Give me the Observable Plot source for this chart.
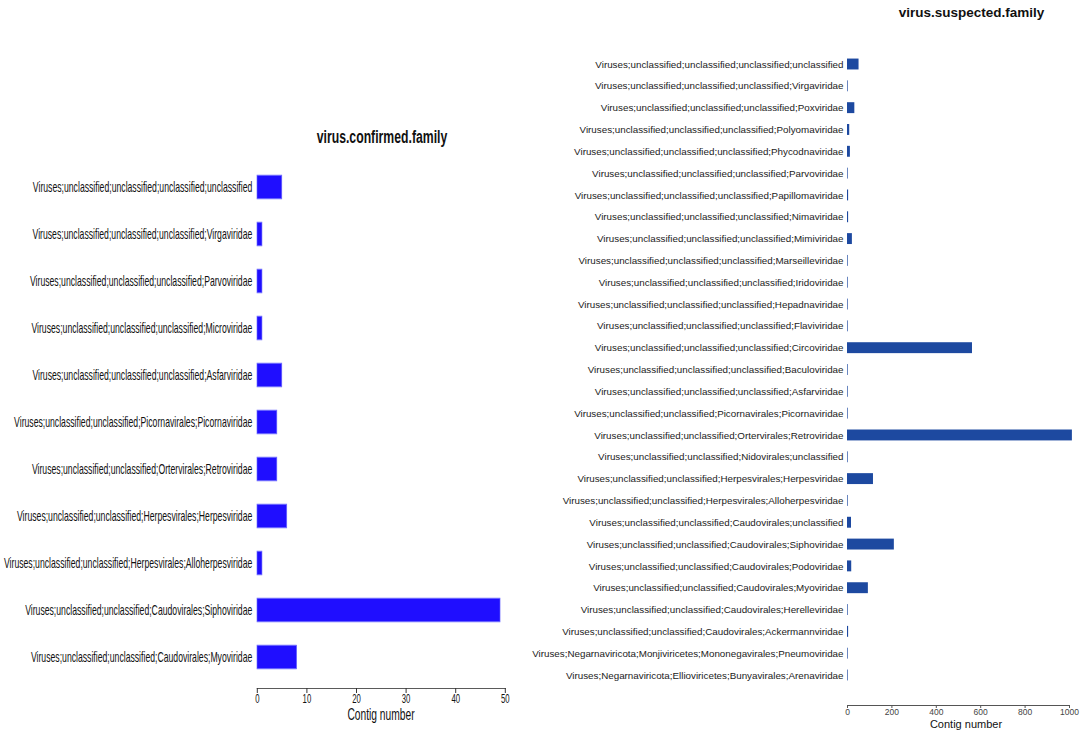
<!DOCTYPE html>
<html>
<head>
<meta charset="utf-8">
<script src="https://cdn.jsdelivr.net/npm/d3@7"></script>
<script src="https://cdn.jsdelivr.net/npm/@observablehq/plot@0.6"></script>
<style>
  html, body { margin: 0; padding: 0; background: #fff; }
  #wrap { position: relative; width: 1084px; height: 735px; overflow: hidden; background: #fff; font-family: "Liberation Sans", Arial, sans-serif; }
  .lbl { position: absolute; white-space: nowrap; line-height: 1; color: #111; }
</style>
</head>
<body>
<div id="wrap"></div>
<script>
// ---- Data: left panel (virus.confirmed.family) ----
const confirmedLabels = [
  "Viruses;unclassified;unclassified;unclassified;unclassified",
  "Viruses;unclassified;unclassified;unclassified;Virgaviridae",
  "Viruses;unclassified;unclassified;unclassified;Parvoviridae",
  "Viruses;unclassified;unclassified;unclassified;Microviridae",
  "Viruses;unclassified;unclassified;unclassified;Asfarviridae",
  "Viruses;unclassified;unclassified;Picornavirales;Picornaviridae",
  "Viruses;unclassified;unclassified;Ortervirales;Retroviridae",
  "Viruses;unclassified;unclassified;Herpesvirales;Herpesviridae",
  "Viruses;unclassified;unclassified;Herpesvirales;Alloherpesviridae",
  "Viruses;unclassified;unclassified;Caudovirales;Siphoviridae",
  "Viruses;unclassified;unclassified;Caudovirales;Myoviridae"
];
const confirmedValues = [5, 1, 1, 1, 5, 4, 4, 6, 1, 49, 8];
const confirmedTicks = [0, 10, 20, 30, 40, 50];

// ---- Data: right panel (virus.suspected.family) ----
const suspectedLabels = [
  "Viruses;unclassified;unclassified;unclassified;unclassified",
  "Viruses;unclassified;unclassified;unclassified;Virgaviridae",
  "Viruses;unclassified;unclassified;unclassified;Poxviridae",
  "Viruses;unclassified;unclassified;unclassified;Polyomaviridae",
  "Viruses;unclassified;unclassified;unclassified;Phycodnaviridae",
  "Viruses;unclassified;unclassified;unclassified;Parvoviridae",
  "Viruses;unclassified;unclassified;unclassified;Papillomaviridae",
  "Viruses;unclassified;unclassified;unclassified;Nimaviridae",
  "Viruses;unclassified;unclassified;unclassified;Mimiviridae",
  "Viruses;unclassified;unclassified;unclassified;Marseilleviridae",
  "Viruses;unclassified;unclassified;unclassified;Iridoviridae",
  "Viruses;unclassified;unclassified;unclassified;Hepadnaviridae",
  "Viruses;unclassified;unclassified;unclassified;Flaviviridae",
  "Viruses;unclassified;unclassified;unclassified;Circoviridae",
  "Viruses;unclassified;unclassified;unclassified;Baculoviridae",
  "Viruses;unclassified;unclassified;unclassified;Asfarviridae",
  "Viruses;unclassified;unclassified;Picornavirales;Picornaviridae",
  "Viruses;unclassified;unclassified;Ortervirales;Retroviridae",
  "Viruses;unclassified;unclassified;Nidovirales;unclassified",
  "Viruses;unclassified;unclassified;Herpesvirales;Herpesviridae",
  "Viruses;unclassified;unclassified;Herpesvirales;Alloherpesviridae",
  "Viruses;unclassified;unclassified;Caudovirales;unclassified",
  "Viruses;unclassified;unclassified;Caudovirales;Siphoviridae",
  "Viruses;unclassified;unclassified;Caudovirales;Podoviridae",
  "Viruses;unclassified;unclassified;Caudovirales;Myoviridae",
  "Viruses;unclassified;unclassified;Caudovirales;Herelleviridae",
  "Viruses;unclassified;unclassified;Caudovirales;Ackermannviridae",
  "Viruses;Negarnaviricota;Monjiviricetes;Mononegavirales;Pneumoviridae",
  "Viruses;Negarnaviricota;Ellioviricetes;Bunyavirales;Arenaviridae"
];
const suspectedValues = [52, 3, 33, 10, 13, 3, 5, 5, 22, 3, 3, 3, 3, 563, 3, 3, 3, 1013, 3, 117, 3, 18, 211, 19, 94, 3, 5, 3, 3];
const suspectedTicks = [0, 200, 400, 600, 800, 1000];

const confirmed = confirmedLabels.map((name, i) => ({name, value: confirmedValues[i]}));
const suspected = suspectedLabels.map((name, i) => ({name, value: suspectedValues[i]}));

const wrap = document.getElementById("wrap");

// ---- Left panel: drawn in a horizontally condensed SVG ----
const K = 0.62;
const left = Plot.plot({
  width: 839, height: 735,
  marginLeft: 414.5, marginRight: 24.5, marginTop: 0, marginBottom: 47,
  style: {fontFamily: "Liberation Sans, Arial, sans-serif", fontSize: "14px", color: "#111", background: "transparent"},
  x: {domain: [0, 50]},
  y: {domain: confirmedLabels, range: [163.5, 680.5], paddingInner: 0.5, paddingOuter: 0.25, round: false},
  marks: [
    Plot.barX(confirmed, {x: "value", y: "name", fill: "#1f0eff", stroke: "#6f6cff", strokeWidth: 1}),
    Plot.frame({anchor: "bottom", stroke: "#333"}),
    Plot.axisX({ticks: confirmedTicks, tickSize: 5, tickPadding: 1, strokeWidth: 1.6, stroke: "#333", fill: "#111", fontSize: 12.5, label: null, tickFormat: d3.format("d")}),
    Plot.axisY({tickSize: 0, tickPadding: 8.1, fontSize: 14, fill: "#111", label: null})
  ]
});
left.style.position = "absolute";
left.style.left = "0px";
left.style.top = "0px";
left.style.transformOrigin = "0 0";
left.style.transform = `scaleX(${K})`;
wrap.appendChild(left);

// ---- Right panel ----
const right = Plot.plot({
  width: 554, height: 735,
  marginLeft: 317, marginRight: 15, marginTop: 0, marginBottom: 30,
  style: {fontFamily: "Liberation Sans, Arial, sans-serif", fontSize: "9.8px", color: "#222", background: "transparent"},
  x: {domain: [0, 1000]},
  y: {domain: suspectedLabels, range: [53.1, 685.9], paddingInner: 0.5, paddingOuter: 0.25, round: false},
  marks: [
    Plot.barX(suspected, {x: "value", y: "name", fill: "#1d49a0"}),
    Plot.frame({anchor: "bottom", stroke: "#555"}),
    Plot.axisX({ticks: suspectedTicks, tickSize: 3, tickPadding: 0.5, stroke: "#555", fill: "#444", fontSize: 8.5, label: null, tickFormat: d3.format("d")}),
    Plot.axisY({tickSize: 0, tickPadding: 4, fontSize: 9.8, fill: "#222", label: null})
  ]
});
right.style.position = "absolute";
right.style.left = "530px";
right.style.top = "0px";
wrap.appendChild(right);

// ---- Titles and axis labels (real text) ----
function addLabel(text, cx, cy, size, weight, sx) {
  const d = document.createElement("div");
  d.className = "lbl";
  d.textContent = text;
  d.style.left = cx + "px";
  d.style.top = cy + "px";
  d.style.fontSize = size + "px";
  d.style.fontWeight = weight;
  d.style.transform = `translate(-50%, -50%) scaleX(${sx})`;
  wrap.appendChild(d);
}
addLabel("virus.confirmed.family", 381.5, 137, 18, "bold", 0.68);
addLabel("Contig number", 380.5, 715, 16, "normal", 0.64);
addLabel("virus.suspected.family", 971.5, 13, 13.5, "bold", 1);
addLabel("Contig number", 966, 723.5, 11, "normal", 1);
</script>
</body>
</html>
